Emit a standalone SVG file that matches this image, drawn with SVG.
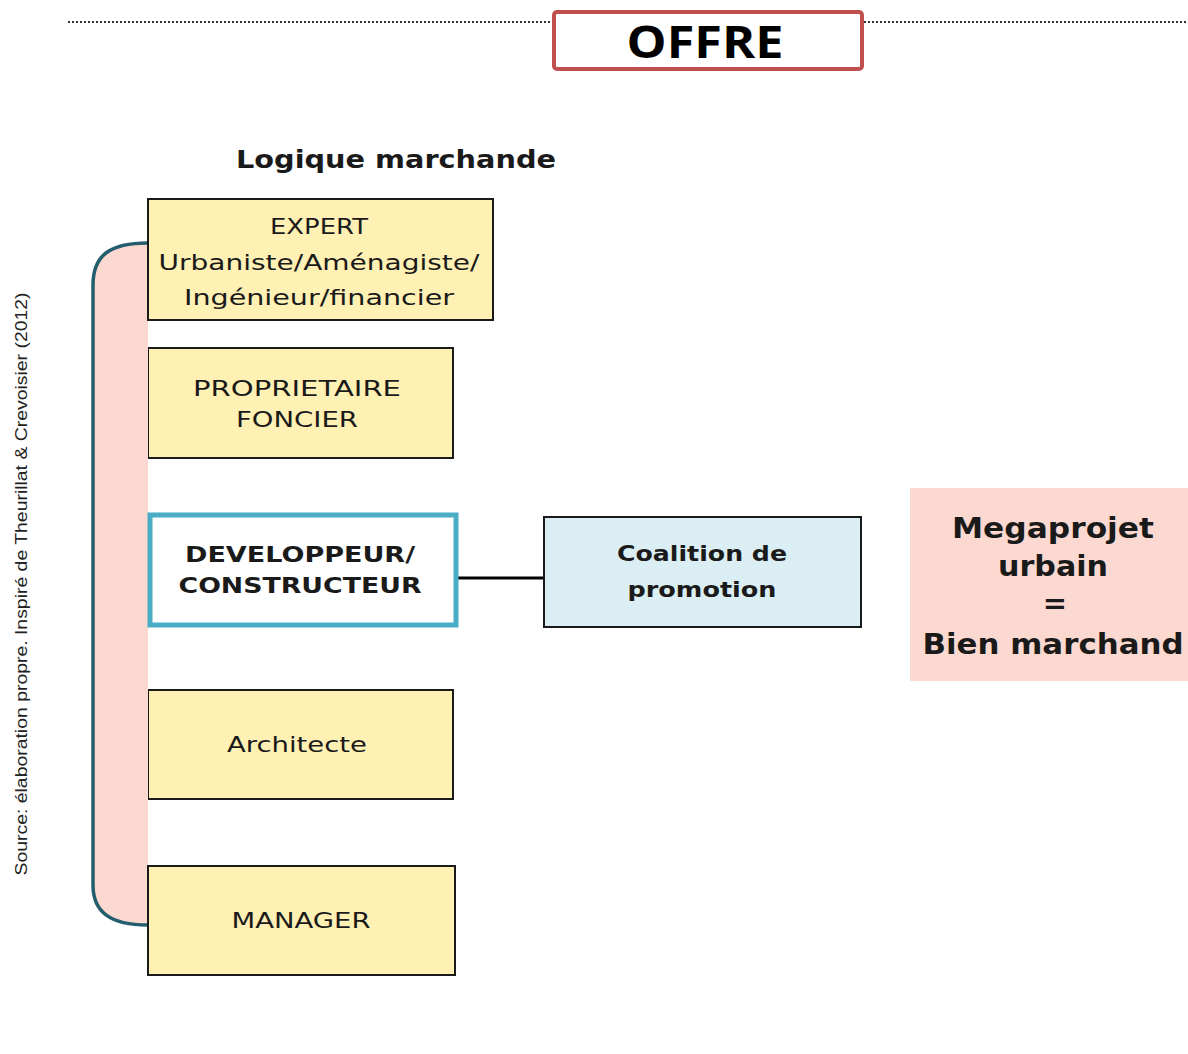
<svg xmlns="http://www.w3.org/2000/svg" width="1188" height="1054" viewBox="0 0 1188 1054">
<style>
.t{font-family:"DejaVu Sans",Verdana,sans-serif;fill:#1a1a1a;text-anchor:middle}
.b{font-weight:bold}
.yb{fill:#fff0b4;stroke:#1a1a1a;stroke-width:2}
</style>
<rect width="1188" height="1054" fill="#fff"/>
<g id="header">
<line x1="68" y1="22" x2="552" y2="22" stroke="#333" stroke-width="2" stroke-dasharray="2,2"/>
<line x1="864" y1="22" x2="1188" y2="22" stroke="#333" stroke-width="2" stroke-dasharray="2,2"/>
<rect x="554" y="12" width="308" height="57" rx="3" fill="#fff" stroke="#c0504d" stroke-width="4"/>
<text x="705" y="58" font-family="'Open Sans',sans-serif" font-weight="bold" font-size="44" text-anchor="middle" textLength="157" lengthAdjust="spacingAndGlyphs" fill="#000">OFFRE</text>
</g>
<text class="t b" x="396" y="168" font-size="24" textLength="320" lengthAdjust="spacingAndGlyphs" fill="#000">Logique marchande</text>
<text transform="translate(27,584) rotate(-90)" font-family="'Liberation Sans',Arial,sans-serif" font-size="16" text-anchor="middle" textLength="583" lengthAdjust="spacingAndGlyphs" fill="#222">Source: élaboration propre. Inspiré de Theurillat &amp; Crevoisier (2012)</text>
<g id="proprietaire">
<rect class="yb" x="148" y="348" width="305" height="110"/>
<text class="t" x="297" y="396" font-size="22" textLength="208" lengthAdjust="spacingAndGlyphs">PROPRIETAIRE</text>
<text class="t" x="297" y="427" font-size="22" textLength="122" lengthAdjust="spacingAndGlyphs">FONCIER</text>
</g>
<g id="architecte">
<rect class="yb" x="148" y="690" width="305" height="109"/>
<text class="t" x="297" y="752" font-size="22" textLength="140" lengthAdjust="spacingAndGlyphs">Architecte</text>
</g>
<g id="bracket">
<path d="M148,243 C110,243 93,255 93,285 L93,885 C93,912 110,925 148,925 Z" fill="#fbd9d0" stroke="none"/>
<path d="M148,243 C110,243 93,255 93,285 L93,885 C93,912 110,925 148,925" fill="none" stroke="#245e6e" stroke-width="3.5"/>
</g>
<g id="expert">
<rect class="yb" x="148" y="199" width="345" height="121"/>
<text class="t" x="319" y="234" font-size="22" textLength="98" lengthAdjust="spacingAndGlyphs">EXPERT</text>
<text class="t" x="319" y="270" font-size="22" textLength="321" lengthAdjust="spacingAndGlyphs">Urbaniste/Aménagiste/</text>
<text class="t" x="319" y="305" font-size="22" textLength="270" lengthAdjust="spacingAndGlyphs">Ingénieur/financier</text>
</g>
<g id="manager">
<rect class="yb" x="148" y="866" width="307" height="109"/>
<text class="t" x="301" y="928" font-size="22" textLength="139" lengthAdjust="spacingAndGlyphs">MANAGER</text>
</g>
<g id="connectors">
<line x1="458" y1="578" x2="544" y2="578" stroke="#000" stroke-width="3"/>
</g>
<g id="developpeur">
<rect x="150" y="515" width="306" height="110" fill="#fff" stroke="#4bacc6" stroke-width="5"/>
<text class="t b" x="300" y="562" font-size="22" textLength="230" lengthAdjust="spacingAndGlyphs" fill="#000">DEVELOPPEUR/</text>
<text class="t b" x="300" y="593" font-size="22" textLength="243" lengthAdjust="spacingAndGlyphs" fill="#000">CONSTRUCTEUR</text>
</g>
<g id="coalition">
<rect x="544" y="517" width="317" height="110" fill="#daeef3" stroke="#1a1a1a" stroke-width="2"/>
<text class="t b" x="702" y="561" font-size="21" textLength="170" lengthAdjust="spacingAndGlyphs">Coalition  de</text>
<text class="t b" x="702" y="597" font-size="21" textLength="149" lengthAdjust="spacingAndGlyphs">promotion</text>
</g>
<g id="megaprojet">
<rect x="910" y="488" width="278" height="193" fill="#fbd9d0"/>
<text class="t b" x="1053" y="538" font-size="29" textLength="202" lengthAdjust="spacingAndGlyphs" fill="#000">Megaprojet</text>
<text class="t b" x="1053" y="576" font-size="29" textLength="110" lengthAdjust="spacingAndGlyphs" fill="#000">urbain</text>
<text class="t b" x="1055" y="613" font-size="29" fill="#000">=</text>
<text class="t b" x="1053" y="654" font-size="29" textLength="261" lengthAdjust="spacingAndGlyphs" fill="#000">Bien marchand</text>
</g>
</svg>
